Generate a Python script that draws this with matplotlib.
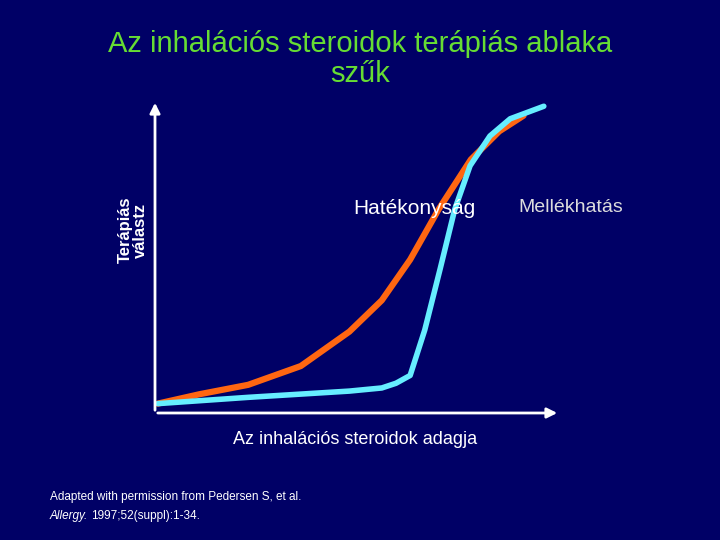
import matplotlib
matplotlib.use("Agg")
import matplotlib.pyplot as plt

plt.rcParams["font.family"] = ["Liberation Sans", "DejaVu Sans"]

# dose (arbitrary units) vs therapeutic response
efficacy_x = [0.07, 1.1, 2.3, 3.6, 4.8, 5.6, 6.3, 7.0, 7.8, 8.5, 9.1]
efficacy_y = [0.3, 0.6, 0.9, 1.5, 2.6, 3.6, 4.9, 6.5, 8.1, 9.0, 9.5]
side_x = [0.07, 2.3, 4.8, 5.6, 5.95, 6.3, 6.66, 7.04, 7.4, 7.78, 8.27, 8.77, 9.6]
side_y = [0.3, 0.5, 0.7, 0.8, 0.95, 1.2, 2.65, 4.6, 6.5, 7.9, 8.85, 9.4, 9.8]

BG = "#000066"
fig = plt.figure(figsize=(7.2, 5.4), dpi=100, facecolor=BG)
ax = fig.add_axes([155 / 720, 1 - 413 / 540, 405 / 720, 313 / 540])
ax.set_facecolor(BG)
ax.set_xlim(0, 10)
ax.set_ylim(0, 10)
for s in ax.spines.values():
    s.set_visible(False)
ax.set_xticks([])
ax.set_yticks([])

ax.plot(efficacy_x, efficacy_y, color="#ff6611", lw=4.5, solid_capstyle="round")
ax.plot(side_x, side_y, color="#66eeff", lw=4, solid_capstyle="round")

arrow = dict(arrowstyle="-|>", color="white", lw=2, mutation_scale=15)
ax.annotate("", xy=(0, 1.0), xytext=(0, 0), xycoords="axes fraction", arrowprops=arrow)
ax.annotate("", xy=(1.0, 0), xytext=(0, 0), xycoords="axes fraction", arrowprops=arrow)

fig.text(0.5, 0.89, "Az inhalációs steroidok terápiás ablaka\nszűk", color="#66dd33",
         fontsize=21, ha="center", va="center", linespacing=1.1)
fig.text(133 / 720, 1 - 230 / 540, "Terápiás\nválastz", color="white", fontsize=12,
         fontweight="bold", rotation=90, ha="center", va="center", linespacing=1.0)
fig.text(353 / 720, 1 - 209 / 540, "Hatékonyság", color="white", fontsize=15,
         ha="left", va="center")
fig.text(518 / 720, 1 - 207 / 540, "Mellékhatás", color="#dddddd", fontsize=14,
         ha="left", va="center")
fig.text(355 / 720, 1 - 440 / 540, "Az inhalációs steroidok adagja", color="white",
         fontsize=13, ha="center", va="center")
fig.text(50 / 720, 1 - 497 / 540, "Adapted with permission from Pedersen S, et al.",
         color="white", fontsize=8.5, ha="left", va="center")
fig.text(50 / 720, 1 - 516 / 540, "Allergy.", color="white", fontsize=8.5,
         style="italic", ha="left", va="center")
fig.text(91 / 720, 1 - 516 / 540, "1997;52(suppl):1-34.", color="white", fontsize=8.5,
         ha="left", va="center")

fig.savefig("out.png", dpi=100, facecolor=BG)
